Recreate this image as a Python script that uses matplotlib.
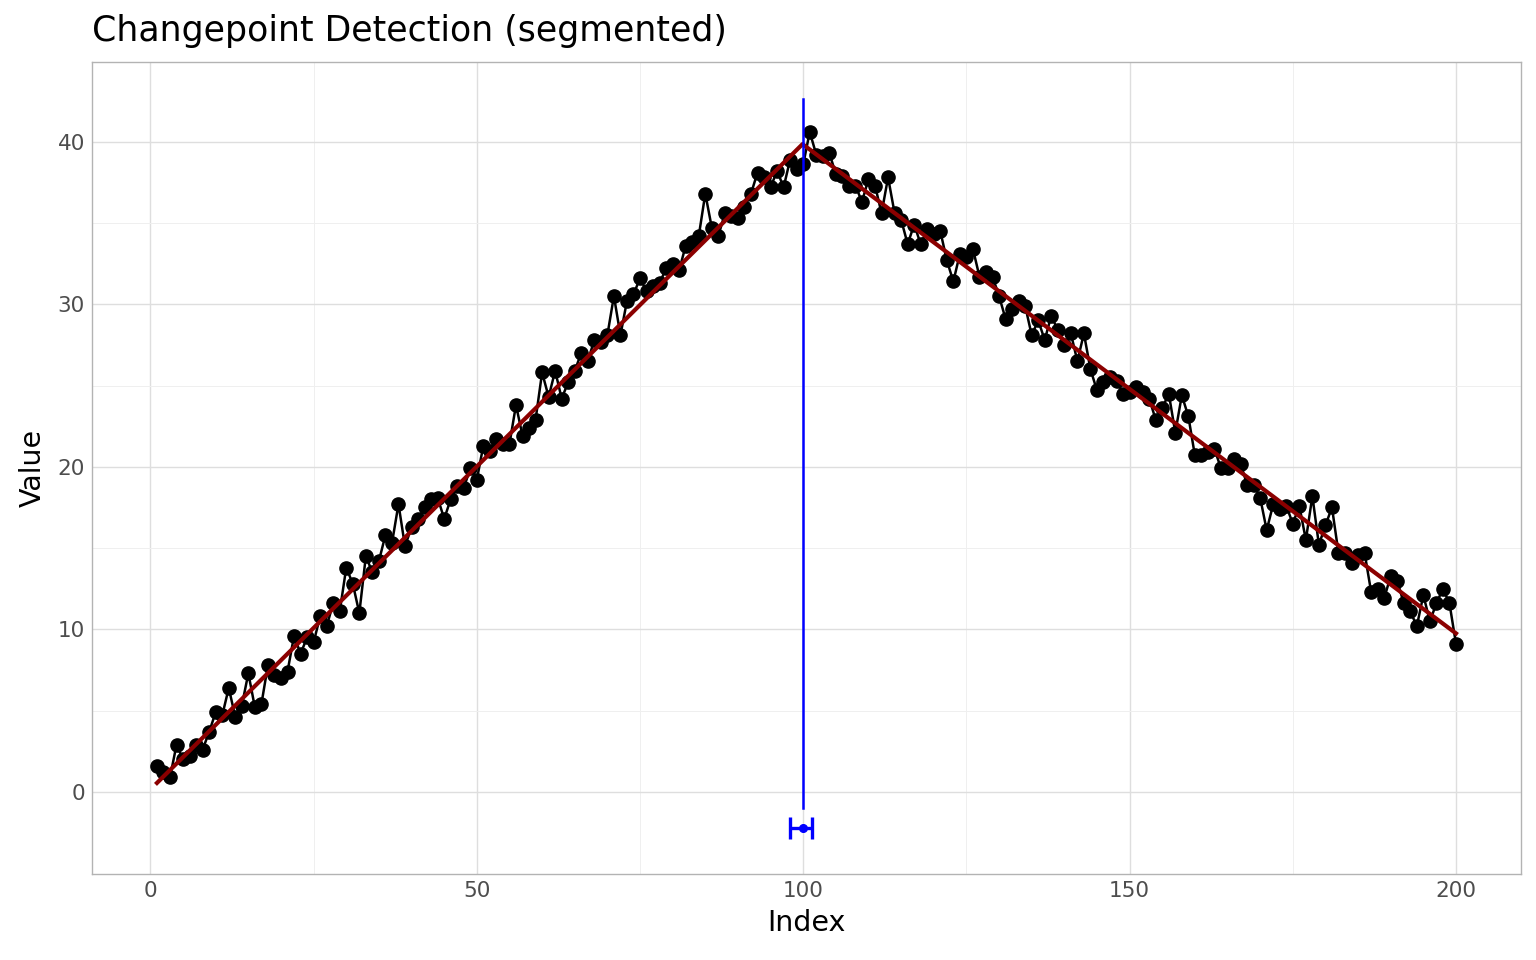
import numpy as np
import matplotlib
matplotlib.use("Agg")
import matplotlib.pyplot as plt

# observed series (index 1..200)
values = [
    1.6, 1.2, 0.9, 2.9, 2.0, 2.2, 2.9, 2.6, 3.7, 4.9,
    4.7, 6.4, 4.6, 5.3, 7.3, 5.2, 5.4, 7.8, 7.2, 7.0,
    7.4, 9.6, 8.5, 9.5, 9.2, 10.8, 10.2, 11.6, 11.1, 13.8,
    12.8, 11.0, 14.5, 13.5, 14.2, 15.8, 15.3, 17.7, 15.1, 16.3,
    16.8, 17.5, 18.0, 18.1, 16.8, 18.0, 18.8, 18.7, 19.9, 19.2,
    21.3, 21.0, 21.7, 21.4, 21.4, 23.8, 21.9, 22.4, 22.9, 25.8,
    24.3, 25.9, 24.2, 25.2, 25.9, 27.0, 26.5, 27.8, 27.7, 28.1,
    30.5, 28.1, 30.2, 30.6, 31.6, 30.8, 31.1, 31.3, 32.2, 32.5,
    32.1, 33.6, 33.8, 34.2, 36.8, 34.7, 34.2, 35.6, 35.4, 35.3,
    36.0, 36.8, 38.1, 37.8, 37.2, 38.2, 37.2, 38.9, 38.3, 38.6,
    40.6, 39.2, 39.1, 39.3, 38.0, 37.9, 37.3, 37.3, 36.3, 37.7,
    37.3, 35.6, 37.8, 35.6, 35.2, 33.7, 34.9, 33.7, 34.6, 34.3,
    34.5, 32.7, 31.4, 33.1, 32.9, 33.4, 31.7, 32.0, 31.7, 30.5,
    29.1, 29.7, 30.2, 29.9, 28.1, 29.0, 27.8, 29.3, 28.4, 27.5,
    28.2, 26.5, 28.2, 26.0, 24.7, 25.2, 25.5, 25.3, 24.5, 24.6,
    24.9, 24.6, 24.2, 22.9, 23.6, 24.5, 22.1, 24.4, 23.1, 20.7,
    20.7, 20.9, 21.1, 19.9, 19.9, 20.5, 20.2, 18.9, 18.9, 18.1,
    16.1, 17.7, 17.4, 17.6, 16.5, 17.6, 15.5, 18.2, 15.2, 16.4,
    17.5, 14.7, 14.7, 14.1, 14.6, 14.7, 12.3, 12.5, 11.9, 13.3,
    13.0, 11.6, 11.1, 10.2, 12.1, 10.5, 11.6, 12.5, 11.6, 9.1,
]
index = np.arange(1, len(values) + 1)

# segmented fit (breakpoint near 100)
fit_x = [1, 99.9, 200]
fit_y = [0.55, 39.85, 9.75]

# estimated changepoint and its confidence interval
cp_est = 99.9
cp_lo = 97.9
cp_hi = 101.4
cp_vline = (-1.0, 42.6)
cp_bar_y = -2.25

fig = plt.figure(figsize=(15.36, 9.6), dpi=100)
ax = fig.add_axes([0.0599, 0.0896, 0.9303, 0.8458])

ax.plot(index, values, color="black", lw=1.8, zorder=3)
ax.plot(index, values, "o", color="black", ms=9.5, zorder=4)
ax.plot(fit_x, fit_y, color="#8B0000", lw=3.0, zorder=5, solid_joinstyle="round")

ax.plot([cp_est, cp_est], cp_vline, color="blue", lw=1.8, zorder=6)
ax.errorbar([cp_est], [cp_bar_y], xerr=[[cp_est - cp_lo], [cp_hi - cp_est]],
            fmt="o", color="blue", ms=5.5, lw=2.4, capsize=8, capthick=2.4, zorder=6)

ax.set_xlim(-8.95, 209.95)
ax.set_ylim(-5.05, 44.9)
ax.set_xticks([0, 50, 100, 150, 200])
ax.set_yticks([0, 10, 20, 30, 40])
ax.set_xticks([25, 75, 125, 175], minor=True)
ax.set_yticks([5, 15, 25, 35], minor=True)
ax.grid(which="major", color="#DEDEDE", lw=1.0)
ax.grid(which="minor", color="#EFEFEF", lw=0.7)
ax.set_axisbelow(True)
ax.tick_params(which="both", length=0, labelsize=15.5, labelcolor="#4D4D4D", pad=5)
for s in ax.spines.values():
    s.set_color("#B3B3B3")
    s.set_linewidth(1.0)

ax.set_xlabel("Index", fontsize=20.5, labelpad=6)
ax.set_ylabel("Value", fontsize=20.5, labelpad=8)
fig.text(0.0599, 0.968, "Changepoint Detection (segmented)", fontsize=25,
         ha="left", va="center")

fig.savefig("out.png", dpi=100)
